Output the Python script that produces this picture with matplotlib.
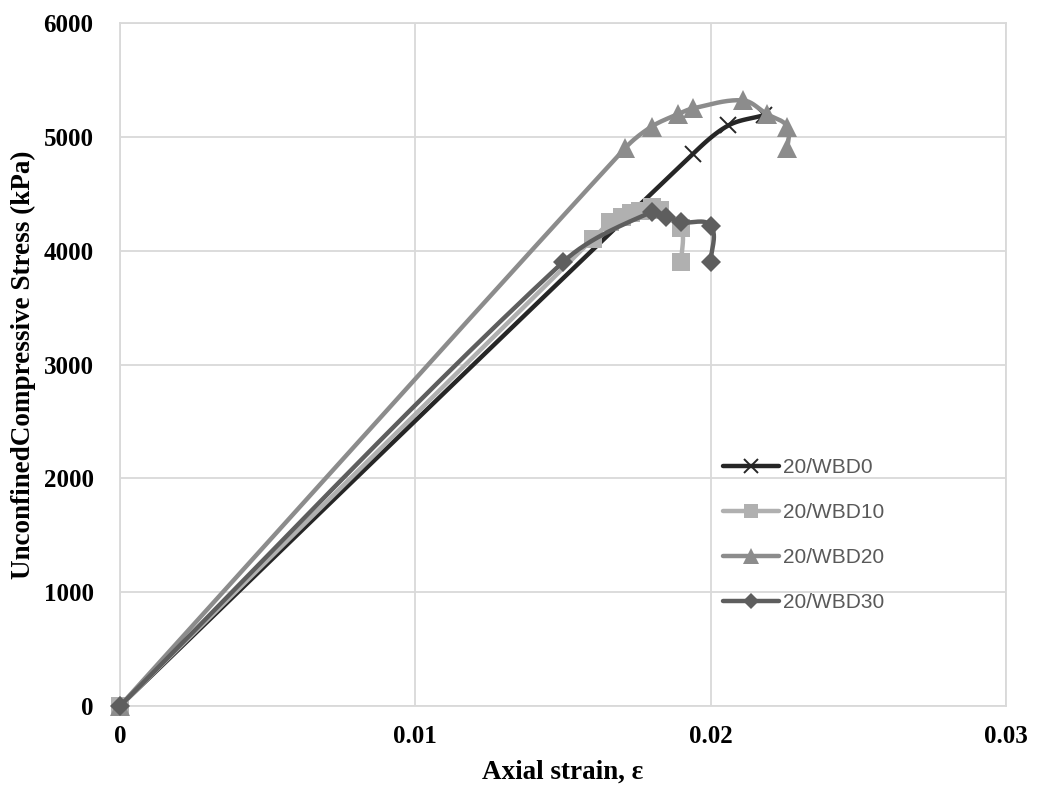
import numpy as np
import matplotlib
matplotlib.use("Agg")
import matplotlib.pyplot as plt

# data
strain_0 = [0, 0.0194, 0.0206, 0.0218]
stress_0 = [0, 4850, 5100, 5190]

strain_10 = [0, 0.0160, 0.0166, 0.0170, 0.0173, 0.0176, 0.0180, 0.0183, 0.0190, 0.0190]
stress_10 = [0, 4100, 4250, 4300, 4330, 4350, 4380, 4360, 4200, 3900]

strain_20 = [0, 0.0171, 0.0180, 0.0189, 0.0194, 0.0211, 0.0219, 0.0226, 0.0226]
stress_20 = [0, 4900, 5090, 5200, 5250, 5320, 5200, 5090, 4900]

strain_30 = [0, 0.0150, 0.0180, 0.0185, 0.0190, 0.0200, 0.0200]
stress_30 = [0, 3900, 4340, 4300, 4250, 4220, 3900]

labels = ["20/WBD0", "20/WBD10", "20/WBD20", "20/WBD30"]
colors = ["#262626", "#b0b0b0", "#8c8c8c", "#5e5e5e"]
markers = ["x", "s", "^", "D"]
msizes = [12, 13, 14, 10]


def smooth(xs, ys, sx=886 / 0.03, sy=683 / 6000.0, n=30):
    # smoothed line like a spreadsheet chart: tangents scaled by segment length
    p = np.column_stack([np.array(xs) * sx, np.array(ys) * sy])
    ext = np.vstack([p[0], p, p[-1]])
    out = [p[0]]
    t = np.linspace(0, 1, n)[1:, None]

    def unit(v):
        nv = np.hypot(*v)
        return v / nv if nv > 0 else v

    for i in range(len(p) - 1):
        p0, p1, p2, p3 = ext[i], ext[i + 1], ext[i + 2], ext[i + 3]
        L = np.hypot(*(p2 - p1))
        c1 = p1 + unit(p2 - p0) * L / 3.0
        c2 = p2 - unit(p3 - p1) * L / 3.0
        seg = ((1 - t) ** 3) * p1 + 3 * ((1 - t) ** 2) * t * c1 + 3 * (1 - t) * t ** 2 * c2 + t ** 3 * p2
        out.extend(seg)
    out = np.array(out)
    return out[:, 0] / sx, out[:, 1] / sy


fig = plt.figure(figsize=(10.4, 7.89), dpi=100)
ax = fig.add_axes([120 / 1040, 1 - 706 / 789, 886 / 1040, 683 / 789])

series = [(strain_0, stress_0), (strain_10, stress_10), (strain_20, stress_20), (strain_30, stress_30)]
handles = []
for k, (xs, ys) in enumerate(series):
    sx_, sy_ = smooth(xs, ys)
    ax.plot(sx_, sy_, color=colors[k], lw=3.2, solid_capstyle="round", zorder=3 + k, clip_on=False)
    mew = 1.4 if markers[k] == "x" else 0
    ax.plot(xs, ys, ls="none", marker=markers[k], ms=msizes[k], color=colors[k],
            mec=colors[k], mew=mew, zorder=3 + k, clip_on=False)
    h, = ax.plot([], [], color=colors[k], lw=3.2, marker=markers[k], ms=msizes[k] * 0.8,
                 mew=mew, solid_capstyle="round")
    handles.append(h)

ax.set_xlim(0, 0.03)
ax.set_ylim(0, 6000)
ax.set_xticks([0, 0.01, 0.02, 0.03])
ax.set_xticklabels(["0", "0.01", "0.02", "0.03"])
ax.set_yticks(np.arange(0, 6001, 1000))
ax.grid(True, color="#d9d9d9", lw=1.3)
ax.set_axisbelow(True)
for s in ax.spines.values():
    s.set_color("#d9d9d9")
    s.set_linewidth(1.3)
ax.tick_params(length=0)
ax.tick_params(axis="x", pad=14)
ax.tick_params(axis="y", pad=19)
for lab in ax.get_xticklabels() + ax.get_yticklabels():
    lab.set_fontfamily("Liberation Serif")
    lab.set_fontweight("bold")
    lab.set_fontsize(18)

ax.set_xlabel("Axial strain, ε", fontfamily="Liberation Serif", fontweight="bold", fontsize=19.5)
ax.xaxis.set_label_coords(0.5, (706 - 772) / 683)
ax.xaxis.label.set_va("center")
ax.set_ylabel("UnconfinedCompressive Stress (kPa)", fontfamily="Liberation Serif", fontweight="bold",
              fontsize=19.5)
ax.yaxis.set_label_coords((23 - 120) / 886, 0.5)
ax.yaxis.label.set_va("center")

leg = ax.legend(handles, labels, loc="upper left", bbox_to_anchor=((723 - 120) / 886, (706 - 458) / 683),
                frameon=False, borderpad=0, borderaxespad=0,
                handlelength=2.7, handletextpad=0.2, labelspacing=1.25,
                prop={"family": "Liberation Sans", "size": 15})
for t in leg.get_texts():
    t.set_color("#595959")

fig.savefig("out.png", dpi=100)
